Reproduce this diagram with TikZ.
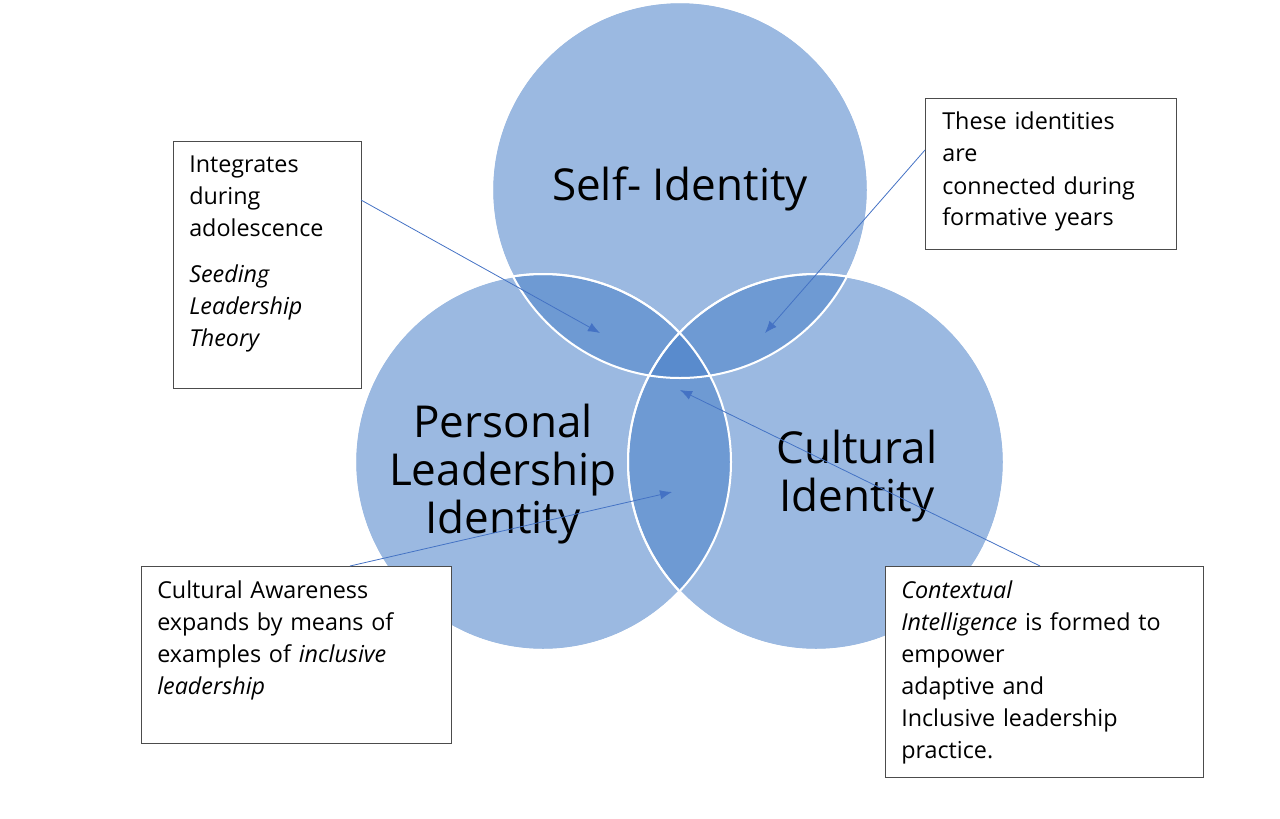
\documentclass[tikz,border=0pt]{standalone}
\usepackage{fontspec}
\setmainfont{Open Sans}
\usetikzlibrary{arrows.meta}
\definecolor{cblue}{RGB}{73,128,200}
\definecolor{lblue}{RGB}{68,114,196}
\begin{document}
\begin{tikzpicture}[x=0.75pt,y=-0.75pt,
  circ/.style={fill=cblue,fill opacity=0.55,draw=white,line width=1.5pt,draw opacity=1},
  lab/.style={font=\fontsize{33}{36}\selectfont,align=center,text=black},
  box/.style={draw=black!70,line width=0.6pt,fill=white},
  btxt/.style={anchor=north west,font=\fontsize{17.5}{24}\selectfont,align=left,inner sep=0pt},
  con/.style={draw=lblue,line width=0.6pt,-{Latex[length=9pt,width=7pt]}}]
\useasboundingbox (0,0) rectangle (1280,818);
\fill[circ] (680,190) circle (188);
\fill[circ] (543,462) circle (188);
\fill[circ] (816,462) circle (188);
\draw[white,line width=1.5pt] (680,190) circle (188) (543,462) circle (188) (816,462) circle (188);
\node[lab] (s) at (680,189) {Self- Identity};
\node[lab] (p) at (503,474) {Personal\\Leadership\\Identity};
\node[lab] (c) at (857,476) {Cultural\\Identity};
\draw[box] (173,141) rectangle (361,388);
\node[btxt,text width=170] (b1) at (189,156) {Integrates\\during\\adolescence\\[10pt]\textit{Seeding}\\\textit{Leadership}\\\textit{Theory}};
\draw[box] (925,98) rectangle (1176,249);
\node[btxt,text width=230] (b2) at (942,112) {These identities\\are\\connected during\\formative years};
\draw[box] (141,566) rectangle (451,743);
\node[btxt,text width=290] (b3) at (157,580) {Cultural Awareness\\expands by means of\\examples of \textit{inclusive}\\\textit{leadership}};
\draw[box] (885,566) rectangle (1203,777);
\node[btxt,text width=300] (b4) at (901,580) {\textit{Contextual}\\\textit{Intelligence} is formed to\\empower\\adaptive and\\Inclusive leadership\\practice.};
\coordinate (a1s) at (361,200); \coordinate (a1e) at (600,333);
\coordinate (a2s) at (925,150); \coordinate (a2e) at (765,333);
\coordinate (a3s) at (350,566); \coordinate (a3e) at (672,492);
\coordinate (a4s) at (1040,566); \coordinate (a4e) at (680,390);
\draw[con] (a1s) -- (a1e);
\draw[con] (a2s) -- (a2e);
\draw[con] (a3s) -- (a3e);
\draw[con] (a4s) -- (a4e);
\end{tikzpicture}
\end{document}
